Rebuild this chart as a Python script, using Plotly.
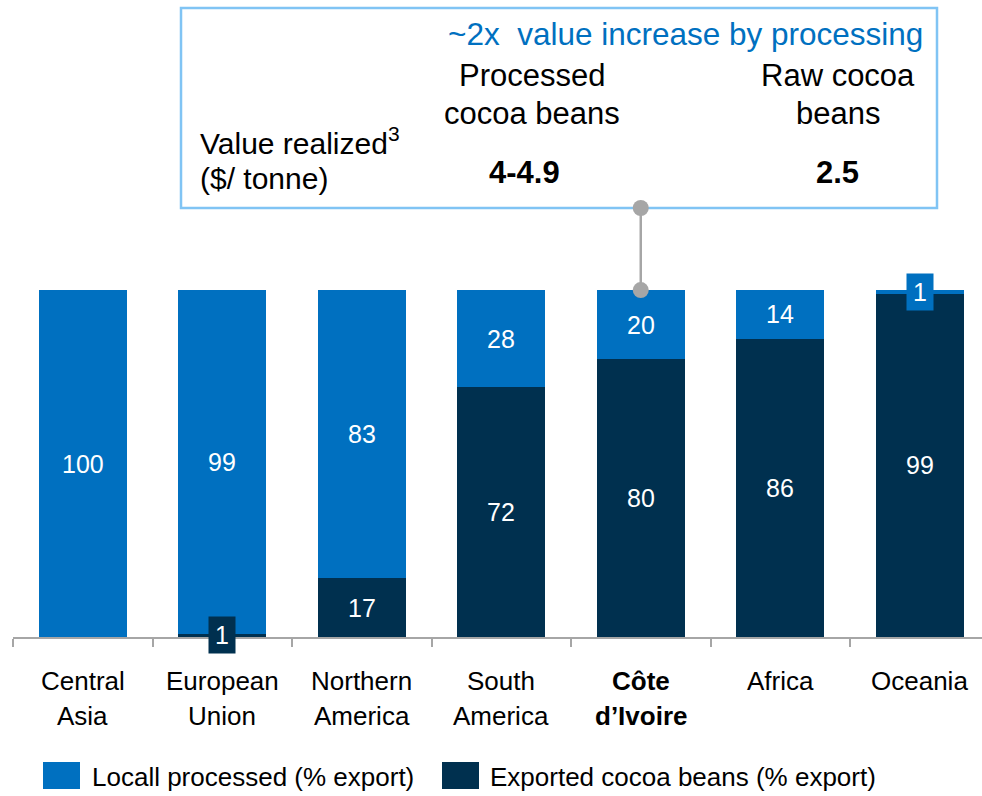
import plotly.graph_objects as go

# ---------------- data ----------------
categories = ["Central Asia", "European Union", "Northern America", "South America",
              "Côte d’Ivoire", "Africa", "Oceania"]
tick_labels = [["Central", "Asia"], ["European", "Union"], ["Northern", "America"],
               ["South", "America"], ["<b>Côte</b>", "<b>d’Ivoire</b>"], ["Africa"], ["Oceania"]]
processed = [100, 99, 83, 28, 20, 14, 1]      # Locally processed (% export)
exported = [0, 1, 17, 72, 80, 86, 99]         # Exported cocoa beans (% export)
series_names = ["Locall processed (% export)", "Exported cocoa beans (% export)"]

box_title = "~2x\u00a0 value increase by processing"
box_col_heads = [["Processed", "cocoa beans"], ["Raw cocoa", "beans"]]
box_row_label = ["Value realized<sup>3</sup>", "($/ tonne)"]
box_values = ["4-4.9", "2.5"]

# ---------------- style ----------------
BLUE = "#0070C0"
NAVY = "#00304F"
GREY = "#A6A6A6"
BOXLINE = "#80C4F4"
FONT = "Arial, Liberation Sans, sans-serif"

W, H = 982, 796
L, R, T, B = 13, 0, 0, 159
PW, PH = W - L - R, H - T - B
YMAX = 183.6


def px_x(px):
    return (px - L) / PW


def px_y(py):
    return (T + PH - py) / PH


fig = go.Figure()
fig.add_trace(go.Bar(x=categories, y=exported, name=series_names[1],
                     marker=dict(color=NAVY, line=dict(width=0)), showlegend=False))
fig.add_trace(go.Bar(x=categories, y=processed, name=series_names[0],
                     marker=dict(color=BLUE, line=dict(width=0)), showlegend=False))

annotations = []
shapes = []

# value labels
for i, cat in enumerate(categories):
    segs = [(exported[i], 0, NAVY), (processed[i], exported[i], BLUE)]
    for val, base, col in segs:
        if val <= 0:
            continue
        small = val < 5
        a = dict(x=cat, y=base + val / 2, xref="x", yref="y", text=str(val),
                 showarrow=False, font=dict(family=FONT, size=25, color="white"),
                 xanchor="center", yanchor="middle")
        if small:
            a.update(bgcolor=col, width=26, height=36, borderpad=0)
        annotations.append(a)

# category labels
for i, lines in enumerate(tick_labels):
    for j, line in enumerate(lines):
        annotations.append(dict(x=categories[i], xref="x", y=px_y(681 + 35 * j), yref="paper",
                                text=line, showarrow=False, xanchor="center", yanchor="middle",
                                font=dict(family=FONT, size=26, color="black")))

# annotation box
shapes.append(dict(type="rect", xref="paper", yref="paper",
                   x0=px_x(181), x1=px_x(937), y0=px_y(208), y1=px_y(8),
                   line=dict(color=BOXLINE, width=2.5), fillcolor="white", layer="above"))
annotations.append(dict(x=px_x(685), y=px_y(34), xref="paper", yref="paper", text=box_title,
                        showarrow=False, xanchor="center", yanchor="middle",
                        font=dict(family=FONT, size=31.5, color=BLUE)))
for cx, head, val in zip([532, 838], box_col_heads, box_values):
    for j, line in enumerate(head):
        annotations.append(dict(x=px_x(cx), y=px_y(75 + 38 * j), xref="paper", yref="paper",
                                text=line, showarrow=False, xanchor="center", yanchor="middle",
                                font=dict(family=FONT, size=31, color="black")))
annotations.append(dict(x=px_x(524), y=px_y(172), xref="paper", yref="paper",
                        text="<b>" + box_values[0] + "</b>", showarrow=False,
                        xanchor="center", yanchor="middle",
                        font=dict(family=FONT, size=31, color="black")))
annotations.append(dict(x=px_x(837), y=px_y(172), xref="paper", yref="paper",
                        text="<b>" + box_values[1] + "</b>", showarrow=False,
                        xanchor="center", yanchor="middle",
                        font=dict(family=FONT, size=31, color="black")))
for j, line in enumerate(box_row_label):
    annotations.append(dict(x=px_x(198), y=px_y(141 + 38 * j), xref="paper", yref="paper",
                            text=line, showarrow=False, xanchor="left", yanchor="middle",
                            font=dict(family=FONT, size=30, color="black")))

# connector from Côte d'Ivoire bar to box
ci = 4
y_top = px_y(208) * YMAX
shapes.append(dict(type="line", xref="x", yref="y", x0=ci, x1=ci, y0=100, y1=y_top,
                   line=dict(color=GREY, width=2.5), layer="above"))
for yy in (100, y_top):
    shapes.append(dict(type="circle", xref="x", yref="y", xsizemode="pixel", ysizemode="pixel",
                       xanchor=ci, yanchor=yy, x0=-8, x1=8, y0=-8, y1=8,
                       fillcolor=GREY, line=dict(width=0), layer="above"))

# custom legend
for (sx, tx), name, col in zip([(43, 90), (442, 488)], series_names, [BLUE, NAVY]):
    shapes.append(dict(type="rect", xref="paper", yref="paper",
                       x0=px_x(sx), x1=px_x(sx + 37), y0=px_y(789), y1=px_y(762),
                       fillcolor=col, line=dict(width=0)))
    annotations.append(dict(x=px_x(tx), y=px_y(777), xref="paper", yref="paper", text=name,
                            showarrow=False, xanchor="left", yanchor="middle",
                            font=dict(family=FONT, size=26, color="black")))

fig.update_layout(
    width=W, height=H,
    margin=dict(l=L, r=R, t=T, b=B, pad=0),
    barmode="stack", bargap=0.37,
    plot_bgcolor="white", paper_bgcolor="white",
    showlegend=False, hovermode=False,
    annotations=annotations, shapes=shapes,
    xaxis=dict(type="category", range=[-0.5, -0.5 + PW / 139.5], showticklabels=False,
               ticks="outside", tickson="boundaries", ticklen=8, tickwidth=2, tickcolor=GREY,
               showline=True, linecolor=GREY, linewidth=2, showgrid=False, zeroline=False,
               automargin=False, fixedrange=True),
    yaxis=dict(range=[0, YMAX], visible=False, showgrid=False, zeroline=False,
               automargin=False, fixedrange=True),
)

fig.write_html("out.html", config={"displayModeBar": False},
               post_script="document.body.style.margin='0px';document.body.style.overflow='hidden';")
